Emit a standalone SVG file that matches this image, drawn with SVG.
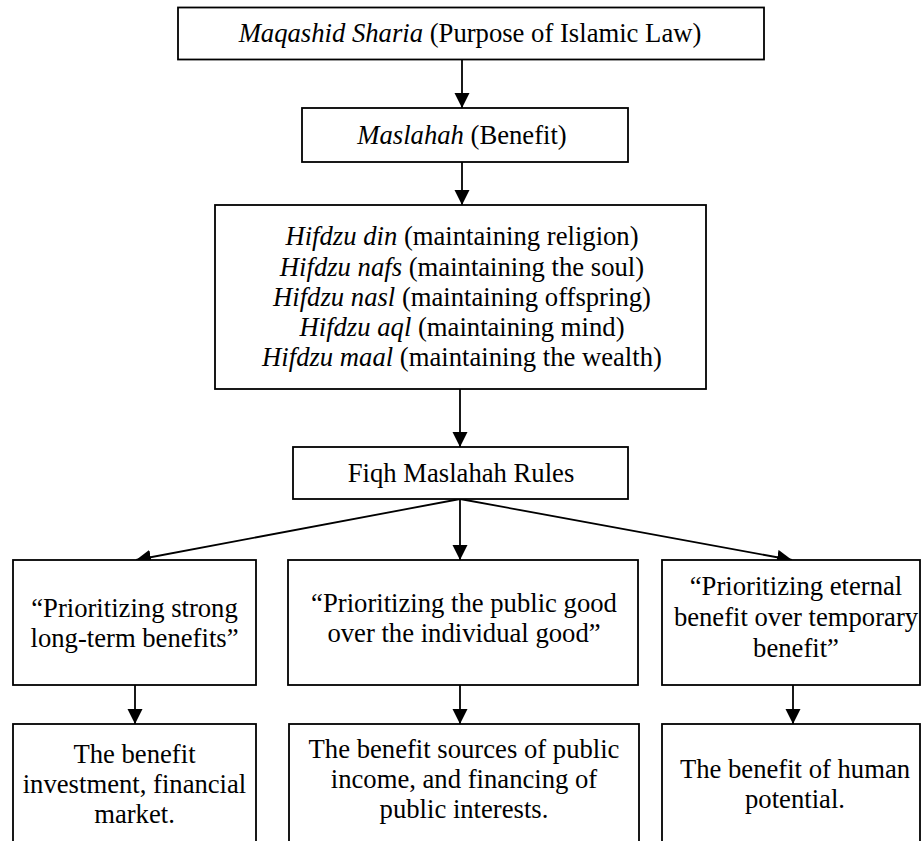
<svg xmlns="http://www.w3.org/2000/svg" width="922" height="841" viewBox="0 0 922 841">
<style>
  .box { fill: #ffffff; stroke: #000000; stroke-width: 1.8; }
  .t { font-family: "Liberation Serif", "Times New Roman", serif; font-size: 26.67px; fill: #000000; text-anchor: middle; }
  .i { font-style: italic; }
  .c { stroke: #000000; stroke-width: 1.8; fill: none; marker-end: url(#ah); }
</style>
<defs>
  <marker id="ah" markerUnits="userSpaceOnUse" markerWidth="16" markerHeight="16" viewBox="0 0 16 16" refX="15" refY="8" orient="auto">
    <path d="M0,0.5 L15,8 L0,15.5 z" fill="#000000"/>
  </marker>
</defs>
<rect x="0" y="0" width="922" height="841" fill="#ffffff"/>

<g id="connectors">
  <line class="c" x1="462" y1="59" x2="462" y2="108"/>
  <line class="c" x1="462" y1="162" x2="462" y2="205"/>
  <line class="c" x1="460" y1="389" x2="460" y2="447"/>
  <line class="c" x1="460" y1="499" x2="136" y2="560"/>
  <line class="c" x1="460" y1="499" x2="460" y2="560"/>
  <line class="c" x1="460" y1="499" x2="792" y2="560"/>
  <line class="c" x1="135" y1="685" x2="135" y2="724"/>
  <line class="c" x1="460" y1="685" x2="460" y2="724"/>
  <line class="c" x1="793" y1="685" x2="793" y2="724"/>
</g>

<g id="maqashid">
  <rect class="box" x="178" y="7.5" width="586" height="52"/>
  <text class="t" x="470" y="42"><tspan class="i">Maqashid Sharia</tspan> (Purpose of Islamic Law)</text>
</g>

<g id="maslahah">
  <rect class="box" x="302" y="108" width="326" height="54"/>
  <text class="t" x="462" y="144"><tspan class="i">Maslahah</tspan> (Benefit)</text>
</g>

<g id="hifdzu">
  <rect class="box" x="215" y="205" width="491" height="184"/>
  <text class="t" x="462" y="245"><tspan class="i">Hifdzu din</tspan> (maintaining religion)</text>
  <text class="t" x="462" y="275.5"><tspan class="i">Hifdzu nafs</tspan> (maintaining the soul)</text>
  <text class="t" x="462" y="305.5"><tspan class="i">Hifdzu nasl</tspan> (maintaining offspring)</text>
  <text class="t" x="462" y="336"><tspan class="i">Hifdzu aql</tspan> (maintaining mind)</text>
  <text class="t" x="462" y="366"><tspan class="i">Hifdzu maal</tspan> (maintaining the wealth)</text>
</g>

<g id="fiqh">
  <rect class="box" x="293" y="447" width="335" height="52"/>
  <text class="t" x="461" y="482">Fiqh Maslahah Rules</text>
</g>

<g id="rule-long-term">
  <rect class="box" x="13" y="560" width="243" height="125"/>
  <text class="t" x="134.5" y="617">“Prioritizing strong</text>
  <text class="t" x="134.5" y="647">long-term benefits”</text>
</g>

<g id="rule-public">
  <rect class="box" x="288" y="560" width="350" height="125"/>
  <text class="t" x="464" y="612">“Prioritizing the public good</text>
  <text class="t" x="464" y="642">over the individual good”</text>
</g>

<g id="rule-eternal">
  <rect class="box" x="662" y="560" width="258" height="125"/>
  <text class="t" x="796" y="595">“Prioritizing eternal</text>
  <text class="t" x="796" y="626">benefit over temporary</text>
  <text class="t" x="796" y="657">benefit”</text>
</g>

<g id="benefit-investment">
  <rect class="box" x="13" y="724" width="243" height="130"/>
  <text class="t" x="134.5" y="763">The benefit</text>
  <text class="t" x="134.5" y="793">investment, financial</text>
  <text class="t" x="134.5" y="823">market.</text>
</g>

<g id="benefit-public">
  <rect class="box" x="289" y="724" width="350" height="130"/>
  <text class="t" x="464" y="758">The benefit sources of public</text>
  <text class="t" x="464" y="788">income, and financing of</text>
  <text class="t" x="464" y="818">public interests.</text>
</g>

<g id="benefit-human">
  <rect class="box" x="662" y="724" width="258" height="130"/>
  <text class="t" x="795" y="778">The benefit of human</text>
  <text class="t" x="795" y="808">potential.</text>
</g>
</svg>
